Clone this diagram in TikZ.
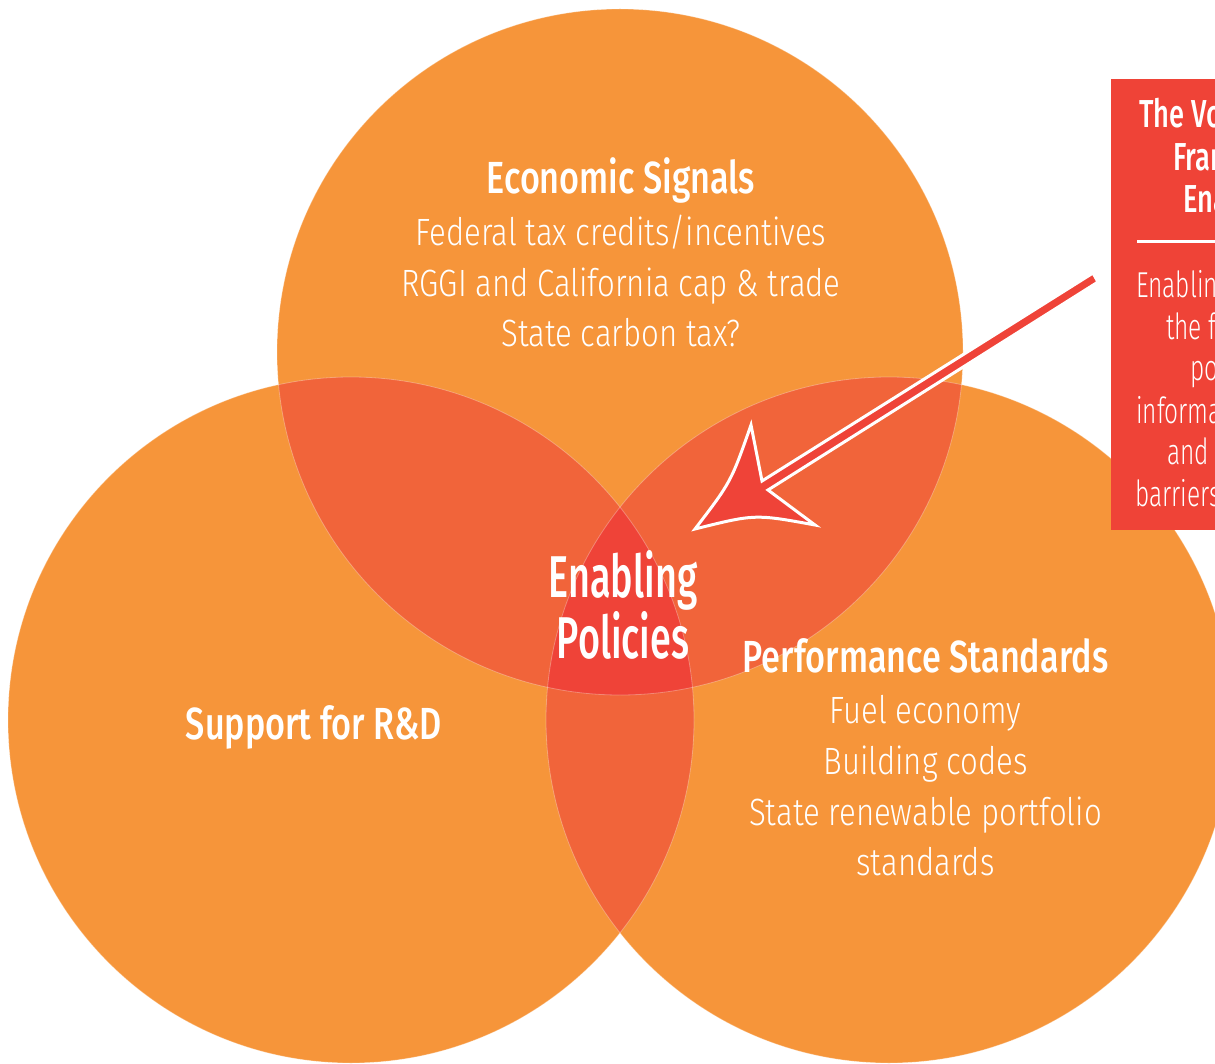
\documentclass[tikz,border=0pt]{standalone}
\usepackage{fontspec}
\IfFontExistsTF{Fira Sans Light}{%
  \newfontfamily\lightf{Fira Sans Light}[FakeStretch=0.82]%
  \newfontfamily\lightbox{Fira Sans Light}[FakeStretch=0.68]}{%
  \newfontfamily\lightf{Fira Sans}[FakeStretch=0.82]%
  \newfontfamily\lightbox{Fira Sans}[FakeStretch=0.68]}
\IfFontExistsTF{Fira Sans Medium}{%
  \newfontfamily\medf{Fira Sans Medium}[FakeStretch=0.76]%
  \newfontfamily\bigf{Fira Sans Medium}[FakeStretch=0.64]%
  \newfontfamily\medbox{Fira Sans Medium}[FakeStretch=0.7]}{%
  \newfontfamily\medf{Fira Sans}[FakeStretch=0.76]%
  \newfontfamily\bigf{Fira Sans}[FakeStretch=0.64]%
  \newfontfamily\medbox{Fira Sans}[FakeStretch=0.7]}
\definecolor{orng}{HTML}{F6953A}
\definecolor{lens}{HTML}{F1643A}
\definecolor{core}{HTML}{EF4338}
\definecolor{boxred}{HTML}{EF4337}
\tikzset{
  lt/.style={text=white, inner sep=0pt, anchor=base, font=\lightf\fontsize{38}{40}\selectfont},
  md/.style={text=white, inner sep=0pt, anchor=base, font=\medf\fontsize{45}{48}\selectfont},
  big/.style={text=white, inner sep=0pt, anchor=base, font=\bigf\fontsize{59}{62}\selectfont},
  bxt/.style={text=white, inner sep=0pt, anchor=base west, font=\medbox\fontsize{39}{42}\selectfont},
  bxb/.style={text=white, inner sep=0pt, anchor=base west, font=\lightbox\fontsize{36}{40}\selectfont},
  arrowsty/.style={fill=core, draw=white, line width=3pt, line join=miter},
  rim/.style={draw=white, draw opacity=0.3, line width=0.8pt}
}
\begin{document}
\begin{tikzpicture}[x=1pt,y=-1pt]
\useasboundingbox (0,0) rectangle (1215,1064);
\clip (0,0) rectangle (1215,1064);
\coordinate (T) at (620,352);
\coordinate (L) at (351,720);
\coordinate (R) at (889,720);
\def\rr{343}
% circles
\fill[orng] (T) circle[radius=\rr];
\fill[orng] (L) circle[radius=\rr];
\fill[orng] (R) circle[radius=\rr];
% pairwise overlaps
\begin{scope}
  \clip (T) circle[radius=\rr];
  \fill[lens] (L) circle[radius=\rr];
  \fill[lens] (R) circle[radius=\rr];
\end{scope}
\begin{scope}
  \clip (L) circle[radius=\rr];
  \fill[lens] (R) circle[radius=\rr];
\end{scope}
% triple overlap
\begin{scope}
  \clip (T) circle[radius=\rr];
  \clip (L) circle[radius=\rr];
  \fill[core] (R) circle[radius=\rr];
\end{scope}
\draw[rim] (T) circle[radius=\rr];
\draw[rim] (L) circle[radius=\rr];
\draw[rim] (R) circle[radius=\rr];

% texts in circles
\node[md] (es) at (621,194) {Economic Signals};
\node[lt] (es1) at (621,246) {Federal tax credits/incentives};
\node[lt] (es2) at (621,297) {RGGI and California cap \& trade};
\node[lt] (es3) at (621,347) {State carbon tax?};

\node[big] (ep1) at (623,597) {Enabling};
\node[big] (ep2) at (623,658) {Policies};

\node[md] (rd) at (314,739) {Support for R\&D};

\node[md] (ps) at (925.5,672) {Performance Standards};
\node[lt] (ps1) at (925.5,723) {Fuel economy};
\node[lt] (ps2) at (925.5,774) {Building codes};
\node[lt] (ps3) at (925.5,825) {State renewable portfolio};
\node[lt] (ps4) at (925.5,875) {standards};

% side box
\node[fill=boxred, inner sep=0pt, minimum width=240, minimum height=451, anchor=north west] (box) at (1111,79) {};
\node[bxt] (bt1) at (1139,128) {The Voluntary};
\node[bxt] (bt2) at (1173,171) {Framework};
\node[bxt] (bt3) at (1183,213) {Enablers};
\coordinate (rl) at (1137,242);
\coordinate (rr) at (1320,242);
\draw[white, line width=3pt] (rl) -- (rr);
\node[bxb] (bb1) at (1136,298) {Enabling policies};
\node[bxb] (bb2) at (1166,340) {the foundation};
\node[bxb] (bb3) at (1190,381) {policy,};
\node[bxb] (bb4) at (1136,423) {informational};
\node[bxb] (bb5) at (1167,464) {and technical};
\node[bxb] (bb6) at (1135,506) {barriers to change};

% arrow from box into the center
\coordinate (s1) at (1093,273);
\coordinate (s2) at (1098,282);
\coordinate (h1) at (762,481);
\coordinate (h2) at (768,490);
\coordinate (b1) at (751,425);
\coordinate (b2) at (815,525);
\coordinate (tip) at (695,529);
\draw[arrowsty] (s1) -- (h1) -- (b1) .. controls (731,482) .. (tip) .. controls (755,514) .. (b2) -- (h2) -- (s2) -- cycle;
\end{tikzpicture}
\end{document}
